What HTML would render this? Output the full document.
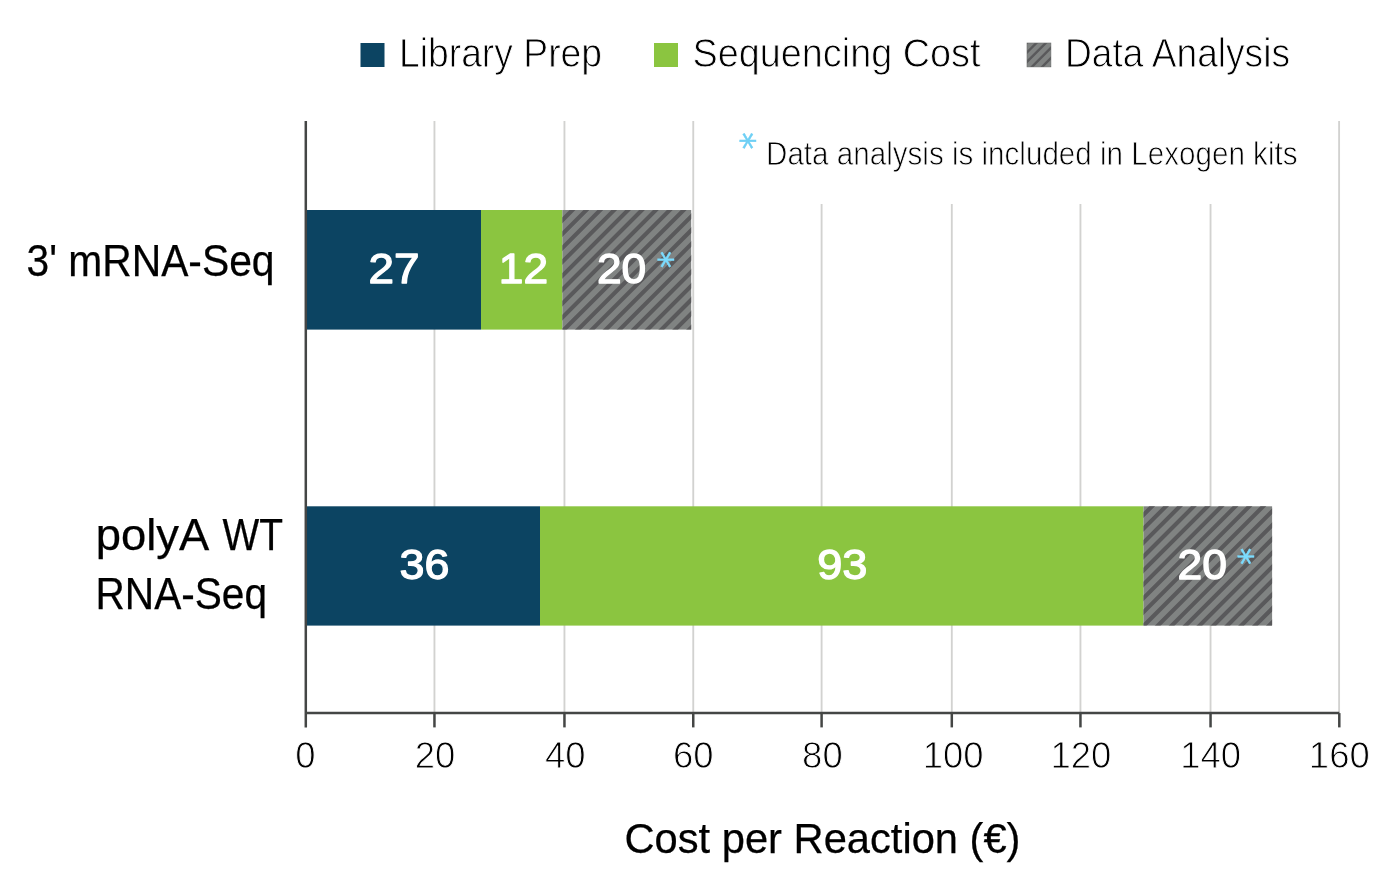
<!DOCTYPE html>
<html lang="en">
<head>
<meta charset="utf-8">
<title>Cost per Reaction</title>
<style>
  html, body { margin: 0; padding: 0; background: #ffffff; }
  body { width: 1400px; height: 895px; overflow: hidden; }
  svg { display: block; }
  text { font-family: "Liberation Sans", sans-serif; fill: #000; }
  .light { stroke: #fff; stroke-width: 0.9px; }
  .reg { stroke: #000; stroke-width: 0.25px; }
  .num text { fill: #fff; stroke: #fff; stroke-width: 1.3px; stroke-linejoin: round; }
  .ast { font-family: "DejaVu Sans", "Liberation Sans", sans-serif; fill: #6fd0f5; stroke: #6fd0f5; stroke-width: 0.4px; font-size: 35.5px; text-anchor: middle; }
  .ast.onbar { fill: #7bdcff; stroke: #7bdcff; }
</style>
</head>
<body>
<svg width="1400" height="895" viewBox="0 0 1400 895">
  <defs>
    <clipPath id="c1"><rect x="562.4" y="210" width="128.8" height="119.6"/></clipPath>
    <clipPath id="c2"><rect x="1143.5" y="506.3" width="128.6" height="119.3"/></clipPath>
    <clipPath id="c3"><rect x="1027" y="43" width="23.9" height="23.9"/></clipPath>
      </defs>
  <rect width="1400" height="895" fill="#fff"/>

  <!-- gridlines -->
  <g stroke="#d2d2d0" stroke-width="1.85">
    <line x1="434.45" y1="121" x2="434.45" y2="713"/>
    <line x1="564.45" y1="121" x2="564.45" y2="713"/>
    <line x1="693.25" y1="121" x2="693.25" y2="713"/>
    <line x1="821.6" y1="204" x2="821.6" y2="713"/>
    <line x1="951.8" y1="204" x2="951.8" y2="713"/>
    <line x1="1080.45" y1="204" x2="1080.45" y2="713"/>
    <line x1="1210.55" y1="204" x2="1210.55" y2="713"/>
    <line x1="1339.1" y1="121" x2="1339.1" y2="713"/>
  </g>

  <!-- bars -->
  <rect x="306" y="210" width="175" height="119.6" fill="#0c4462"/>
  <rect x="481" y="210" width="81.4" height="119.6" fill="#8bc540"/>
  <rect x="562.4" y="210" width="128.8" height="119.6" fill="#808382"/>
  <path d="M387.85,200L-48.15,636M401.76,200L-34.24,636M415.66,200L-20.34,636M429.56,200L-6.44,636M443.46,200L7.46,636M457.36,200L21.36,636M471.27,200L35.27,636M485.17,200L49.17,636M499.07,200L63.07,636M512.97,200L76.97,636M526.87,200L90.87,636M540.78,200L104.78,636M554.68,200L118.68,636M568.58,200L132.58,636M582.48,200L146.48,636M596.38,200L160.38,636M610.29,200L174.29,636M624.19,200L188.19,636M638.09,200L202.09,636M651.99,200L215.99,636M665.89,200L229.89,636M679.80,200L243.80,636M693.70,200L257.70,636M707.60,200L271.60,636M721.50,200L285.50,636M735.40,200L299.40,636M749.31,200L313.31,636M763.21,200L327.21,636M777.11,200L341.11,636M791.01,200L355.01,636M804.91,200L368.91,636M818.82,200L382.82,636M832.72,200L396.72,636M846.62,200L410.62,636M860.52,200L424.52,636M874.42,200L438.42,636M888.33,200L452.33,636M902.23,200L466.23,636M916.13,200L480.13,636M930.03,200L494.03,636M943.93,200L507.93,636M957.84,200L521.84,636M971.74,200L535.74,636M985.64,200L549.64,636M999.54,200L563.54,636M1013.44,200L577.44,636M1027.35,200L591.35,636M1041.25,200L605.25,636M1055.15,200L619.15,636M1069.05,200L633.05,636M1082.95,200L646.95,636M1096.86,200L660.86,636M1110.76,200L674.76,636M1124.66,200L688.66,636M1138.56,200L702.56,636M1152.46,200L716.46,636M1166.37,200L730.37,636M1180.27,200L744.27,636M1194.17,200L758.17,636M1208.07,200L772.07,636M1221.97,200L785.97,636M1235.88,200L799.88,636M1249.78,200L813.78,636M1263.68,200L827.68,636M1277.58,200L841.58,636M1291.48,200L855.48,636M1305.39,200L869.39,636M1319.29,200L883.29,636M1333.19,200L897.19,636M1347.09,200L911.09,636M1360.99,200L924.99,636M1374.90,200L938.90,636M1388.80,200L952.80,636M1402.70,200L966.70,636M1416.60,200L980.60,636M1430.50,200L994.50,636M1444.41,200L1008.41,636M1458.31,200L1022.31,636M1472.21,200L1036.21,636M1486.11,200L1050.11,636M1500.01,200L1064.01,636M1513.92,200L1077.92,636M1527.82,200L1091.82,636M1541.72,200L1105.72,636M1555.62,200L1119.62,636M1569.52,200L1133.52,636M1583.43,200L1147.43,636M1597.33,200L1161.33,636M1611.23,200L1175.23,636M1625.13,200L1189.13,636M1639.03,200L1203.03,636M1652.94,200L1216.94,636M1666.84,200L1230.84,636M1680.74,200L1244.74,636M1694.64,200L1258.64,636M1708.54,200L1272.54,636M1722.45,200L1286.45,636M1736.35,200L1300.35,636" stroke="#59595b" stroke-width="4.1" fill="none" clip-path="url(#c1)"/>

  <rect x="306" y="506.3" width="234" height="119.3" fill="#0c4462"/>
  <rect x="540" y="506.3" width="603.5" height="119.3" fill="#8bc540"/>
  <rect x="1143.5" y="506.3" width="128.6" height="119.3" fill="#808382"/>
  <path d="M387.85,200L-48.15,636M401.76,200L-34.24,636M415.66,200L-20.34,636M429.56,200L-6.44,636M443.46,200L7.46,636M457.36,200L21.36,636M471.27,200L35.27,636M485.17,200L49.17,636M499.07,200L63.07,636M512.97,200L76.97,636M526.87,200L90.87,636M540.78,200L104.78,636M554.68,200L118.68,636M568.58,200L132.58,636M582.48,200L146.48,636M596.38,200L160.38,636M610.29,200L174.29,636M624.19,200L188.19,636M638.09,200L202.09,636M651.99,200L215.99,636M665.89,200L229.89,636M679.80,200L243.80,636M693.70,200L257.70,636M707.60,200L271.60,636M721.50,200L285.50,636M735.40,200L299.40,636M749.31,200L313.31,636M763.21,200L327.21,636M777.11,200L341.11,636M791.01,200L355.01,636M804.91,200L368.91,636M818.82,200L382.82,636M832.72,200L396.72,636M846.62,200L410.62,636M860.52,200L424.52,636M874.42,200L438.42,636M888.33,200L452.33,636M902.23,200L466.23,636M916.13,200L480.13,636M930.03,200L494.03,636M943.93,200L507.93,636M957.84,200L521.84,636M971.74,200L535.74,636M985.64,200L549.64,636M999.54,200L563.54,636M1013.44,200L577.44,636M1027.35,200L591.35,636M1041.25,200L605.25,636M1055.15,200L619.15,636M1069.05,200L633.05,636M1082.95,200L646.95,636M1096.86,200L660.86,636M1110.76,200L674.76,636M1124.66,200L688.66,636M1138.56,200L702.56,636M1152.46,200L716.46,636M1166.37,200L730.37,636M1180.27,200L744.27,636M1194.17,200L758.17,636M1208.07,200L772.07,636M1221.97,200L785.97,636M1235.88,200L799.88,636M1249.78,200L813.78,636M1263.68,200L827.68,636M1277.58,200L841.58,636M1291.48,200L855.48,636M1305.39,200L869.39,636M1319.29,200L883.29,636M1333.19,200L897.19,636M1347.09,200L911.09,636M1360.99,200L924.99,636M1374.90,200L938.90,636M1388.80,200L952.80,636M1402.70,200L966.70,636M1416.60,200L980.60,636M1430.50,200L994.50,636M1444.41,200L1008.41,636M1458.31,200L1022.31,636M1472.21,200L1036.21,636M1486.11,200L1050.11,636M1500.01,200L1064.01,636M1513.92,200L1077.92,636M1527.82,200L1091.82,636M1541.72,200L1105.72,636M1555.62,200L1119.62,636M1569.52,200L1133.52,636M1583.43,200L1147.43,636M1597.33,200L1161.33,636M1611.23,200L1175.23,636M1625.13,200L1189.13,636M1639.03,200L1203.03,636M1652.94,200L1216.94,636M1666.84,200L1230.84,636M1680.74,200L1244.74,636M1694.64,200L1258.64,636M1708.54,200L1272.54,636M1722.45,200L1286.45,636M1736.35,200L1300.35,636" stroke="#59595b" stroke-width="4.1" fill="none" clip-path="url(#c2)"/>

  <!-- axes -->
  <g stroke="#444645" stroke-width="2.5" fill="none">
    <line x1="305.8" y1="121" x2="305.8" y2="727.4"/>
    <line x1="305" y1="713.1" x2="1339.3" y2="713.1"/>
    <line x1="434.45" y1="713.1" x2="434.45" y2="727.4"/>
    <line x1="564.45" y1="713.1" x2="564.45" y2="727.4"/>
    <line x1="693.25" y1="713.1" x2="693.25" y2="727.4"/>
    <line x1="821.6" y1="713.1" x2="821.6" y2="727.4"/>
    <line x1="951.8" y1="713.1" x2="951.8" y2="727.4"/>
    <line x1="1080.45" y1="713.1" x2="1080.45" y2="727.4"/>
    <line x1="1210.55" y1="713.1" x2="1210.55" y2="727.4"/>
    <line x1="1339.3" y1="713.1" x2="1339.3" y2="727.4"/>
  </g>

  <!-- legend -->
  <rect x="360.5" y="43" width="24" height="24" fill="#0c4462"/>
  <text class="light" x="399" y="66.8" font-size="41" textLength="203" lengthAdjust="spacingAndGlyphs">Library Prep</text>
  <rect x="654" y="43" width="24" height="24" fill="#8bc540"/>
  <text class="light" x="692.5" y="66.8" font-size="41" textLength="288" lengthAdjust="spacingAndGlyphs">Sequencing Cost</text>
  <rect x="1027" y="43" width="23.9" height="23.9" fill="#808382"/>
  <path d="M1029.60,40L999.60,70M1039.40,40L1009.40,70M1048.80,40L1018.80,70M1058.80,40L1028.80,70M1069.00,40L1039.00,70M1078.80,40L1048.80,70" stroke="#59595b" stroke-width="2.4" fill="none" clip-path="url(#c3)"/>
  <rect x="1027" y="43" width="23.9" height="23.9" fill="none" stroke="#6a6b6c" stroke-width="0.6"/>
  <text class="light" x="1065" y="66.8" font-size="41" textLength="225" lengthAdjust="spacingAndGlyphs">Data Analysis</text>

  <!-- note -->
  <text class="ast" x="0" y="18.25" transform="translate(747.90 140.80) scale(1 0.97) rotate(90)">*</text>
  <text class="light" style="stroke-width:0.8px" x="766" y="164.7" font-size="33.3" textLength="531.5" lengthAdjust="spacingAndGlyphs">Data analysis is included in Lexogen kits</text>

  <!-- category labels -->
  <g class="reg" font-size="43.6">
    <text x="26.5" y="275.7" textLength="248" lengthAdjust="spacingAndGlyphs">3' mRNA-Seq</text>
    <text x="95.8" y="550" textLength="113.5" lengthAdjust="spacingAndGlyphs">polyA</text>
    <text x="222.6" y="550" textLength="60.5" lengthAdjust="spacingAndGlyphs">WT</text>
    <text x="95.5" y="608.6" textLength="171.5" lengthAdjust="spacingAndGlyphs">RNA-Seq</text>
  </g>

  <!-- bar values -->
  <g class="num" font-size="43">
    <text x="368.5" y="283" textLength="51" lengthAdjust="spacingAndGlyphs">27</text>
    <text x="498.8" y="283" textLength="49.3" lengthAdjust="spacingAndGlyphs">12</text>
    <text x="596.9" y="283" textLength="49.3" lengthAdjust="spacingAndGlyphs">20</text>
    <text x="399.6" y="579" textLength="49.8" lengthAdjust="spacingAndGlyphs">36</text>
    <text x="817.2" y="579" textLength="50.2" lengthAdjust="spacingAndGlyphs">93</text>
    <text x="1177.5" y="579" textLength="49.5" lengthAdjust="spacingAndGlyphs">20</text>
  </g>
  <text class="ast onbar" x="0" y="18.25" transform="translate(666.10 259.50) scale(1 0.97) rotate(90)">*</text>
  <text class="ast onbar" x="0" y="18.25" transform="translate(1246.50 556.30) scale(1 0.97) rotate(90)">*</text>

  <!-- tick labels -->
  <g class="light" font-size="36.5" text-anchor="middle">
    <text x="305.5" y="768.2">0</text>
    <text x="435" y="768.2">20</text>
    <text x="565.3" y="768.2">40</text>
    <text x="693.2" y="768.2">60</text>
    <text x="822.4" y="768.2">80</text>
    <text x="953.1" y="768.2">100</text>
    <text x="1080.9" y="768.2">120</text>
    <text x="1210.6" y="768.2">140</text>
    <text x="1339.3" y="768.2">160</text>
  </g>

  <!-- axis title -->
  <text class="reg" x="624.5" y="852.7" font-size="42" textLength="396" lengthAdjust="spacingAndGlyphs">Cost per Reaction (€)</text>
</svg>
</body>
</html>
